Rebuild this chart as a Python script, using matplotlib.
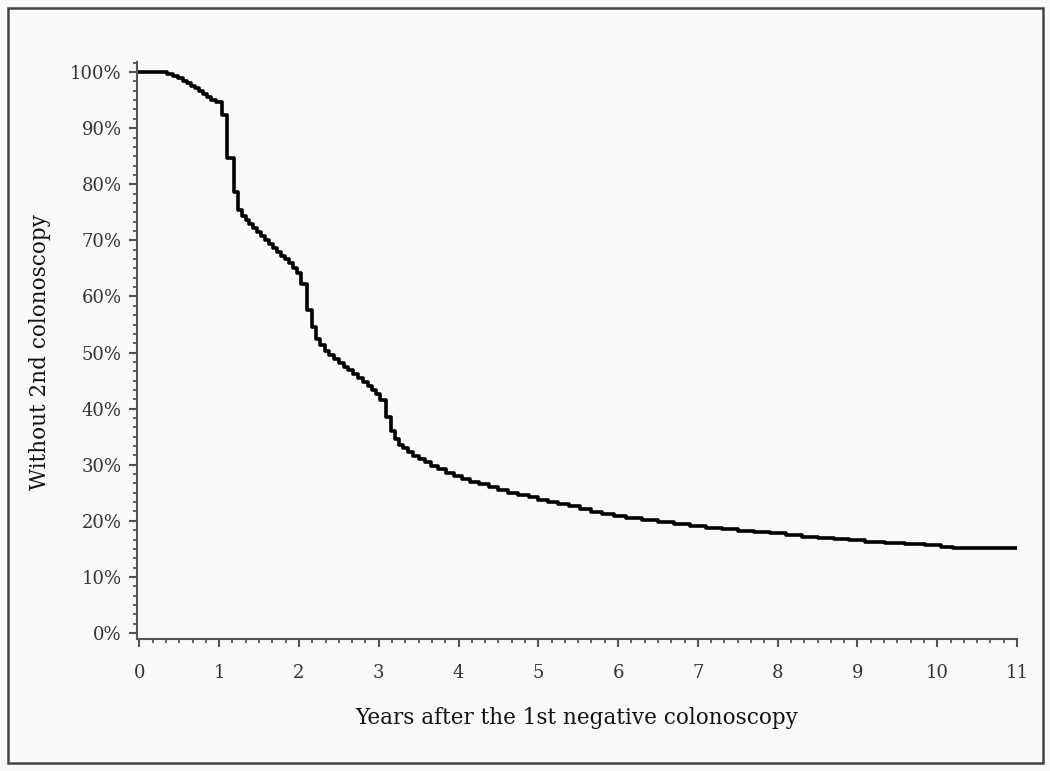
import matplotlib
matplotlib.use("Agg")
import matplotlib.pyplot as plt
from matplotlib.ticker import AutoMinorLocator, FixedLocator
from matplotlib.patches import Rectangle

# --- Data ---
years = [0, 0.35, 0.42, 0.48, 0.55, 0.60, 0.65, 0.70, 0.75, 0.80, 0.85, 0.90,
         0.96, 1.03, 1.10, 1.18, 1.23, 1.28, 1.33, 1.37, 1.42, 1.47, 1.52, 1.57,
         1.62, 1.67, 1.72, 1.77, 1.82, 1.87, 1.92, 1.97, 2.03, 2.10, 2.16, 2.21,
         2.27, 2.33, 2.38, 2.44, 2.50, 2.56, 2.62, 2.68, 2.74, 2.80, 2.86, 2.92,
         2.97, 3.02, 3.09, 3.15, 3.21, 3.26, 3.31, 3.37, 3.43, 3.50, 3.58, 3.66,
         3.74, 3.84, 3.94, 4.04, 4.15, 4.26, 4.38, 4.50, 4.62, 4.75, 4.88, 5.00,
         5.12, 5.25, 5.38, 5.52, 5.66, 5.80, 5.95, 6.10, 6.30, 6.50, 6.70, 6.90,
         7.10, 7.30, 7.50, 7.70, 7.90, 8.10, 8.30, 8.50, 8.70, 8.90, 9.10, 9.35,
         9.60, 9.85, 10.05, 10.20, 11.0]
survival = [100, 99.7, 99.3, 98.9, 98.4, 98.0, 97.6, 97.1, 96.6, 96.1, 95.6, 95.1,
            94.6, 92.3, 84.7, 78.6, 75.4, 74.4, 73.6, 72.9, 72.2, 71.5, 70.8, 70.1,
            69.4, 68.7, 68.0, 67.3, 66.6, 65.9, 65.1, 64.2, 62.2, 57.6, 54.5, 52.5,
            51.3, 50.3, 49.6, 48.9, 48.2, 47.5, 46.8, 46.1, 45.4, 44.7, 44.0, 43.3,
            42.6, 41.6, 38.5, 36.0, 34.5, 33.6, 32.9, 32.2, 31.6, 31.0, 30.4, 29.8,
            29.2, 28.6, 28.0, 27.5, 27.0, 26.5, 26.0, 25.5, 25.0, 24.6, 24.2, 23.8,
            23.4, 23.0, 22.6, 22.1, 21.6, 21.2, 20.8, 20.5, 20.1, 19.8, 19.5, 19.1,
            18.8, 18.5, 18.2, 18.0, 17.8, 17.5, 17.2, 17.0, 16.8, 16.6, 16.3, 16.1,
            15.9, 15.6, 15.4, 15.1, 15.1]

x_ticks = list(range(0, 12))
y_ticks = list(range(0, 101, 10))
y_tick_labels = [f"{v}%" for v in y_ticks]

bg = "#f9f9f9"
plt.rcParams['font.family'] = ['DejaVu Serif']

fig = plt.figure(figsize=(10.5, 7.71), dpi=100, facecolor=bg)
ax = fig.add_axes([137 / 1050, 1 - 639 / 771, 880 / 1050, 577 / 771])
ax.set_facecolor(bg)

ax.plot(years, survival, drawstyle='steps-post', color='black', linewidth=2.6)

ax.set_xlim(-0.03, 11.0)
ax.set_ylim(-1.07, 101.8)

ax.xaxis.set_major_locator(FixedLocator(x_ticks))
ax.yaxis.set_major_locator(FixedLocator(y_ticks))
ax.set_xticklabels([str(v) for v in x_ticks])
ax.set_yticklabels(y_tick_labels)
ax.xaxis.set_minor_locator(AutoMinorLocator(6))
ax.yaxis.set_minor_locator(AutoMinorLocator(6))

for s in ['top', 'right']:
    ax.spines[s].set_visible(False)
for s in ['left', 'bottom']:
    ax.spines[s].set_color('#555555')
    ax.spines[s].set_linewidth(1.5)

ax.tick_params(which='major', length=6, width=1.5, color='#555555',
               labelsize=13, labelcolor='#333333')
ax.tick_params(which='minor', length=3, width=1.3, color='#555555')
ax.tick_params(axis='x', which='major', pad=12)
ax.tick_params(axis='y', which='major', pad=5)

fig.text(577 / 1050, 1 - 718 / 771, "Years after the 1st negative colonoscopy",
         ha='center', va='center', fontsize=15.5, color='#111111')
fig.text(40 / 1050, 1 - 352 / 771, "Without 2nd colonoscopy", rotation=90,
         ha='center', va='center', fontsize=15.5, color='#111111')

# border around the whole picture
fig.patches.append(Rectangle((8 / 1050, 8 / 771), 1035 / 1050, 755 / 771,
                             transform=fig.transFigure, fill=False,
                             edgecolor='#444444', linewidth=1.8))

fig.savefig("out.png", dpi=100, facecolor=bg)
